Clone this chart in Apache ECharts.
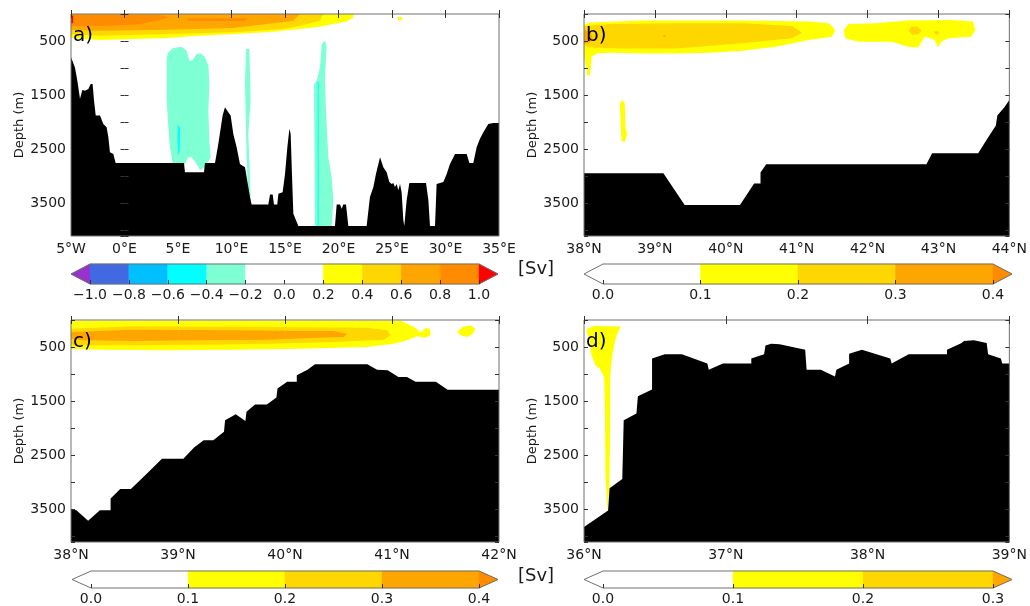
<!DOCTYPE html>
<html>
<head>
<meta charset="utf-8">
<script src="https://cdn.jsdelivr.net/npm/echarts@6/dist/echarts.min.js"></script>
<style>
html, body { margin: 0; padding: 0; background: #fff; }
#chart { width: 1030px; height: 606px; }
</style>
</head>
<body>
<div id="chart"></div>
<script>
// depth axis (m), shared by the four sections
const depthMax = 4110
const depthLabels = [500, 1500, 2500, 3500]

// a) zonal section, lon (deg E) / depth (m)
const aBathy = [[-5, 800], [-4.63, 990], [-4.41, 1230], [-4.16, 1570], [-3.94, 1405], [-3.69, 1420], [-3.38, 1390], [-3.16, 1295], [-2.98, 1295], [-2.85, 1600], [-2.69, 1880], [-2.29, 1880], [-1.98, 2035], [-1.67, 2095], [-1.51, 2280], [-1.36, 2560], [-1.04, 2590], [-0.83, 2760], [5.56, 2760], [5.65, 2930], [7.43, 2930], [7.52, 2760], [8.46, 2760], [8.77, 2400], [9.17, 1880], [9.39, 1725], [9.7, 1820], [9.92, 1880], [10.17, 2220], [10.48, 2465], [10.79, 2775], [11.26, 2835], [11.73, 3390], [11.88, 3525], [13.44, 3525], [13.6, 3340], [13.85, 3340], [13.97, 3525], [14.28, 3525], [14.38, 3330], [14.78, 3300], [15.0, 2960], [15.22, 2465], [15.41, 2125], [15.53, 2220], [15.65, 2960], [15.78, 3700], [16.25, 3925], [19.67, 3925], [19.83, 3525], [20.14, 3525], [20.3, 3605], [20.45, 3525], [20.7, 3525], [20.92, 3925], [22.63, 3925], [22.94, 3390], [23.26, 3205], [23.5, 2960], [23.88, 2650], [24.19, 2835], [24.5, 2930], [24.75, 3110], [24.97, 3145], [25.12, 3130], [25.28, 3205], [25.44, 3145], [25.59, 3265], [25.75, 3145], [25.9, 3300], [26.06, 3820], [26.15, 3925], [26.25, 3700], [26.37, 3450], [26.62, 3130], [28.18, 3130], [28.4, 3450], [28.55, 3925], [29.02, 3925], [29.17, 3145], [29.8, 3110], [30.11, 2960], [30.42, 2775], [30.89, 2590], [31.98, 2590], [32.23, 2760], [32.6, 2760], [32.91, 2465], [33.22, 2310], [33.54, 2190], [34.0, 2035], [34.47, 2020], [35, 2020]]
const aFlow02 = [[-5, 0], [21.4, 0], [21.4, 60], [20.76, 137], [19.52, 186], [18.27, 235], [16.4, 278], [13.29, 340], [10.17, 371], [7.06, 401], [3.94, 445], [0.83, 463], [-2.29, 482], [-5, 445]]
const aFlow04 = [[-5, 0], [18.58, 0], [18.27, 124], [16.4, 217], [14.84, 278], [10.17, 340], [3.94, 371], [-2.29, 401], [-5, 371]]
const aFlow06 = [[-5, 0], [16.4, 0], [15.78, 124], [13.29, 186], [10.17, 260], [3.94, 290], [-2.29, 310], [-5, 295]]
const aFlow08 = [[-5, 20], [3.3, 20], [4.2, 60], [3.3, 110], [1.45, 190], [-2.29, 220], [-5, 220]]
const aFlow08b = [[5.8, 80], [11.5, 80], [11.2, 130], [6.0, 130]]
const aFlow10 = [[-5, 30], [-4.8, 30], [-4.8, 170], [-5, 170]]
const aFlow02b = [[25.5, 60], [25.9, 55], [26.0, 110], [25.6, 120]]
const aBack02 = [[3.94, 800], [4.1, 710], [4.56, 630], [5.34, 605], [5.81, 680], [6.06, 865], [6.37, 850], [6.74, 740], [7.15, 730], [7.52, 800], [7.84, 955], [7.93, 1295], [7.84, 1785], [7.93, 2340], [8.05, 2650], [7.52, 2835], [7.06, 2895], [6.74, 2775], [6.28, 2650], [5.97, 2650], [5.65, 2775], [5.19, 2760], [4.5, 2760], [4.25, 2465], [4.1, 2095], [3.94, 1600]]
const aBack04 = [[5.0, 2050], [5.2, 2100], [5.15, 2550], [5.0, 2600], [4.95, 2300]]
const aBack02b = [[11.36, 650], [11.67, 650], [11.79, 1600], [11.57, 2220], [11.79, 3390], [11.57, 3390], [11.42, 2710], [11.26, 1295]]
const aBack02c = [[18.43, 555], [18.74, 495], [18.89, 615], [18.74, 1170], [18.83, 1785], [19.05, 2650], [19.36, 3020], [19.52, 3450], [19.36, 3925], [17.8, 3925], [17.71, 1295], [17.96, 1235], [18.27, 985]]
const aBack04b = [[18.05, 1250], [18.15, 1250], [18.15, 3925], [18.05, 3925]]

// b) meridional section, lat (deg N) / depth (m)
const bBathy = [[38, 2950], [39.12, 2950], [39.42, 3535], [40.2, 3535], [40.4, 3140], [40.49, 3140], [40.49, 2935], [40.57, 2780], [42.83, 2780], [42.91, 2580], [43.56, 2580], [43.7, 2285], [43.81, 2065], [43.83, 1880], [43.93, 1725], [44, 1590]]
const bFlow01 = [[38, 202], [38.084, 158], [38.833, 121], [40.236, 121], [41.171, 140], [41.452, 171], [41.545, 295], [41.498, 419], [41.171, 481], [40.703, 606], [40.236, 680], [39.768, 717], [39.3, 730], [38.833, 730], [38.365, 717], [38.178, 730], [38.108, 792], [38.084, 1134], [38.047, 1134], [38.014, 854], [38, 792]]
const bFlow02 = [[38, 220], [38.365, 183], [39.3, 171], [40.236, 171], [40.937, 220], [41.077, 345], [40.937, 450], [40.236, 543], [39.3, 637], [38.599, 637], [38.178, 624], [38.061, 606], [38, 575]]
const bFlow03 = [[38, 295], [38.084, 326], [38.122, 450], [38.075, 543], [38, 543]]
const bFlow03b = [[39.12, 390], [39.15, 390], [39.15, 420], [39.12, 420]]
const bFlow01b = [[41.662, 295], [41.732, 183], [42.106, 171], [42.574, 121], [43.182, 109], [43.486, 140], [43.519, 295], [43.463, 419], [43.135, 450], [43.042, 512], [42.995, 618], [42.948, 481], [42.808, 419], [42.714, 618], [42.574, 606], [42.34, 512], [41.873, 512], [41.686, 450]]
const bFlow02b = [[42.58, 300], [42.62, 235], [42.7, 230], [42.76, 300], [42.72, 380], [42.62, 380]]
const bFlow02c = [[42.93, 330], [42.98, 310], [43.02, 350], [42.97, 390]]
const bFlow01c = [[38.543, 1587], [38.575, 1661], [38.585, 2096], [38.608, 2220], [38.575, 2376], [38.528, 2345], [38.514, 1910], [38.505, 1661]]

// c) meridional section, lat (deg N) / depth (m)
const cBathy = [[38, 3505], [38.05, 3520], [38.16, 3715], [38.27, 3520], [38.37, 3520], [38.37, 3305], [38.46, 3130], [38.56, 3130], [38.71, 2840], [38.85, 2570], [39.05, 2570], [39.15, 2360], [39.24, 2225], [39.33, 2225], [39.43, 2070], [39.44, 1855], [39.54, 1745], [39.63, 1870], [39.64, 1700], [39.72, 1565], [39.83, 1565], [39.92, 1435], [39.93, 1270], [40.02, 1145], [40.11, 1145], [40.11, 1025], [40.21, 920], [40.28, 820], [40.77, 820], [40.86, 920], [40.96, 930], [41.06, 1055], [41.14, 1055], [41.22, 1145], [41.41, 1145], [41.52, 1290], [42, 1290]]
const cFlow01 = [[38, 15], [41.08, 15], [41.2, 120], [41.27, 230], [41.31, 150], [41.354, 160], [41.36, 284], [41.313, 328], [41.235, 303], [41.142, 377], [41.017, 438], [40.767, 500], [40.143, 531], [39.519, 549], [38.895, 562], [38.271, 549], [38, 531]]
const cFlow01b = [[41.61, 223], [41.657, 130], [41.735, 100], [41.781, 161], [41.75, 266], [41.703, 315], [41.641, 284]]
const cFlow02 = [[38, 161], [38.583, 118], [39.831, 130], [40.767, 143], [40.955, 192], [40.986, 284], [40.923, 364], [40.455, 408], [39.831, 438], [39.207, 457], [38.583, 469], [38, 469]]
const cFlow03 = [[38, 223], [38.583, 180], [39.519, 192], [40.143, 204], [40.455, 204], [40.58, 254], [40.549, 315], [40.299, 328], [39.831, 364], [39.207, 377], [38.583, 389], [38.115, 377], [38, 346]]

// d) meridional section, lat (deg N) / depth (m)
const dBathy = [[36, 3830], [36.17, 3525], [36.18, 3115], [36.27, 2945], [36.28, 1855], [36.37, 1730], [36.38, 1410], [36.48, 1285], [36.48, 715], [36.57, 635], [36.69, 635], [36.87, 805], [36.88, 920], [36.98, 805], [37.18, 805], [37.18, 715], [37.27, 635], [37.28, 470], [37.32, 440], [37.38, 450], [37.56, 550], [37.57, 920], [37.67, 920], [37.77, 1045], [37.78, 920], [37.87, 805], [37.87, 625], [37.96, 550], [38.16, 715], [38.17, 805], [38.29, 635], [38.56, 635], [38.56, 550], [38.66, 430], [38.68, 390], [38.75, 375], [38.84, 425], [38.85, 635], [38.94, 715], [38.95, 805], [39, 805]]
const dFlow01 = [[36.02, 160], [36.07, 110], [36.26, 120], [36.23, 285], [36.21, 500], [36.195, 745], [36.185, 1055], [36.185, 1670], [36.183, 2285], [36.178, 3115], [36.165, 3545], [36.152, 2900], [36.148, 1670], [36.142, 1055], [36.11, 900], [36.08, 840], [36.05, 625], [36.04, 375], [36.02, 225]]

// colour bar levels (Sv)
const aLevels = [-1.0, -0.8, -0.6, -0.4, -0.2, 0.0, 0.2, 0.4, 0.6, 0.8, 1.0]
const bLevels = [0.0, 0.1, 0.2, 0.3, 0.4]
const cLevels = [0.0, 0.1, 0.2, 0.3, 0.4]
const dLevels = [0.0, 0.1, 0.2, 0.3]

const aColors = ['#9932CC', '#4169E1', '#00BFFF', '#00FFFF', '#7FFFD4', '#FFFFFF', '#FFFFFF', '#FFFF00', '#FFD700', '#FFA500', '#FF8C00', '#FF0000']
const bColors = ['#FFFFFF', '#FFFFFF', '#FFFF00', '#FFD700', '#FFA500', '#FF8C00']
const dColors = ['#FFFFFF', '#FFFFFF', '#FFFF00', '#FFD700', '#FFA500']

const font = 'DejaVu Sans'
const ink = '#1a1a1a'
const frame = '#707070'

const closeBathy = (pts) => pts.concat([[pts[pts.length - 1][0], depthMax], [pts[0][0], depthMax]])

const panels = [
  {
    label: 'a)', left: 71, top: 14, min: -5, max: 35, step: 5,
    fmt: (v) => (v < 0 ? `${-v}°W` : `${v}°E`),
    layers: [
      [aFlow02, aColors[7]], [aFlow04, aColors[8]], [aFlow06, aColors[9]], [aFlow08, aColors[10]],
      [aFlow08b, aColors[10]], [aFlow10, aColors[11]], [aFlow02b, aColors[7]],
      [aBack02, aColors[4]], [aBack04, aColors[3]], [aBack02b, aColors[4]], [aBack02c, aColors[4]], [aBack04b, aColors[3]],
      [closeBathy(aBathy), '#000'],
    ],
  },
  {
    label: 'b)', left: 584, top: 14, min: 38, max: 44, step: 1,
    fmt: (v) => `${v}°N`,
    layers: [
      [bFlow01, bColors[2]], [bFlow02, bColors[3]], [bFlow03, bColors[4]], [bFlow03b, bColors[4]],
      [bFlow01b, bColors[2]], [bFlow02b, bColors[3]], [bFlow02c, bColors[3]], [bFlow01c, bColors[2]],
      [closeBathy(bBathy), '#000'],
    ],
  },
  {
    label: 'c)', left: 71, top: 320, min: 38, max: 42, step: 1,
    fmt: (v) => `${v}°N`,
    layers: [
      [cFlow01, bColors[2]], [cFlow01b, bColors[2]], [cFlow02, bColors[3]], [cFlow03, bColors[4]],
      [closeBathy(cBathy), '#000'],
    ],
  },
  {
    label: 'd)', left: 584, top: 320, min: 36, max: 39, step: 1,
    fmt: (v) => `${v}°N`,
    layers: [
      [dFlow01, dColors[2]],
      [closeBathy(dBathy), '#000'],
    ],
  },
]

const colorbars = [
  { left: 90, top: 264, width: 389, height: 20, levels: aLevels, colors: aColors },
  { left: 603, top: 264, width: 390, height: 20, levels: bLevels, colors: bColors },
  { left: 91, top: 571, width: 388, height: 19, levels: cLevels, colors: bColors },
  { left: 603, top: 571, width: 390, height: 19, levels: dLevels, colors: dColors },
]

const grid = []
const xAxis = []
const yAxis = []
const series = []
const graphic = []

const tick = { inside: true, length: 4, lineStyle: { color: '#333' } }

panels.forEach((p, i) => {
  grid.push({ left: p.left, top: p.top, width: 428, height: 222, show: true, borderColor: frame, borderWidth: 1, z: 10 })
  const xBase = { gridIndex: i, type: 'value', min: p.min, max: p.max, interval: p.step, splitLine: { show: false }, axisLine: { show: false }, axisTick: tick, z: 10 }
  xAxis.push({ ...xBase, axisLabel: { formatter: p.fmt, color: ink, fontSize: 14, fontFamily: font, margin: 6 } })
  xAxis.push({ ...xBase, position: 'top', axisLabel: { show: false } })
  const yBase = { gridIndex: i, type: 'value', inverse: true, min: 0, max: depthMax, interval: 500, splitLine: { show: false }, axisLine: { show: false }, axisTick: tick, z: 10 }
  yAxis.push({
    ...yBase,
    name: 'Depth (m)', nameLocation: 'middle', nameGap: 43,
    nameTextStyle: { color: ink, fontSize: 13, fontFamily: font },
    axisLabel: { formatter: (v) => (depthLabels.includes(v) ? String(v) : ''), color: ink, fontSize: 14, fontFamily: font, margin: 5 },
  })
  yAxis.push({ ...yBase, position: 'right', axisLabel: { show: false } })
  series.push({
    type: 'custom',
    xAxisIndex: i * 2,
    yAxisIndex: i * 2,
    silent: true,
    clip: true,
    data: p.layers.map((l) => l[0][0]),
    renderItem: (params, api) => {
      const [pts, color] = p.layers[params.dataIndex]
      return { type: 'polygon', shape: { points: pts.map((pt) => api.coord(pt)) }, style: { fill: color } }
    },
  })
  graphic.push({ type: 'text', left: p.left + 2, top: p.top + 12, style: { text: p.label, fontSize: 20, fontFamily: font, fill: '#000' }, z: 20 })
})

colorbars.forEach((cb, k) => {
  const gi = 4 + k
  const ai = 8 + k
  const lv = cb.levels
  const n = lv.length
  const lo = lv[0]
  const hi = lv[n - 1]
  const ext = (hi - lo) * 19 / cb.width
  grid.push({ left: cb.left, top: cb.top, width: cb.width, height: cb.height })
  xAxis.push({
    gridIndex: gi, type: 'value', min: lo, max: hi, interval: lv[1] - lv[0],
    splitLine: { show: false }, axisLine: { show: false }, axisTick: tick, z: 10,
    axisLabel: {
      formatter: (v) => (Math.abs(v) < 1e-9 ? '0.0' : v.toFixed(1).replace('-', '\u2212')),
      color: ink, fontSize: 14, fontFamily: font, margin: 4,
    },
  })
  yAxis.push({ gridIndex: gi, type: 'value', min: 0, max: 1, show: false })
  series.push({
    type: 'custom',
    xAxisIndex: ai,
    yAxisIndex: ai,
    silent: true,
    data: cb.colors.map((c, i) => [i === 0 ? lo : lv[i - 1], 0]).concat([[lo, 0]]),
    renderItem: (params, api) => {
      const i = params.dataIndex
      let pts
      if (i === n + 1) {
        pts = [[lo - ext, 0.5], [lo, 1], [hi, 1], [hi + ext, 0.5], [hi, 0], [lo, 0]]
        return { type: 'polygon', shape: { points: pts.map((pt) => api.coord(pt)) }, style: { fill: 'none', stroke: frame, lineWidth: 1 } }
      }
      if (i === 0) pts = [[lo - ext, 0.5], [lo, 1], [lo, 0]]
      else if (i === n) pts = [[hi, 0], [hi, 1], [hi + ext, 0.5]]
      else pts = [[lv[i - 1], 0], [lv[i], 0], [lv[i], 1], [lv[i - 1], 1]]
      return { type: 'polygon', shape: { points: pts.map((pt) => api.coord(pt)) }, style: { fill: cb.colors[i], stroke: cb.colors[i], lineWidth: 0.5 } }
    },
  })
})

graphic.push({ type: 'text', left: 518, top: 260, style: { text: '[Sv]', fontSize: 18, fontFamily: font, fill: ink } })
graphic.push({ type: 'text', left: 518, top: 567, style: { text: '[Sv]', fontSize: 18, fontFamily: font, fill: ink } })

const chart = echarts.init(document.getElementById('chart'))
chart.setOption({
  animation: false,
  backgroundColor: '#fff',
  textStyle: { fontFamily: font },
  grid,
  xAxis,
  yAxis,
  series,
  graphic,
})
</script>
</body>
</html>
